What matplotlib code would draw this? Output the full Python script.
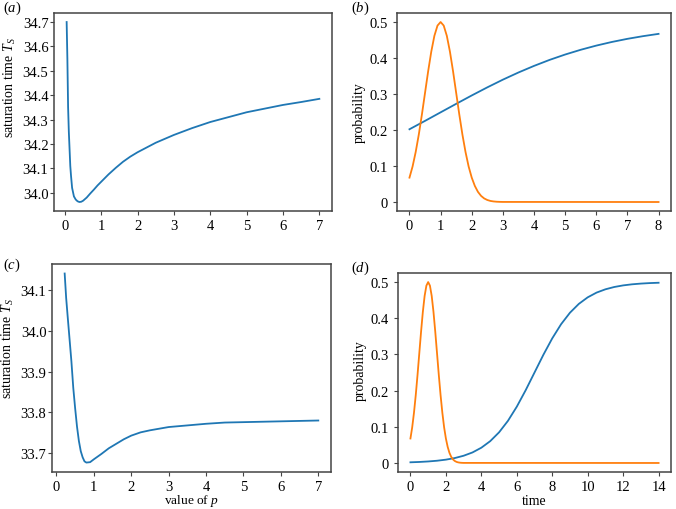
import numpy as np
import matplotlib
matplotlib.use("Agg")
from matplotlib import pyplot as plt

plt.rcParams["font.family"] = ["Liberation Serif", "DejaVu Serif"]
plt.rcParams["font.size"] = 10
plt.rcParams["mathtext.fontset"] = "custom"
plt.rcParams["mathtext.rm"] = "Liberation Serif"
plt.rcParams["mathtext.it"] = "Liberation Serif:italic"

# (a) saturation time vs p
p_a = [0.05, 0.07, 0.09, 0.11, 0.13, 0.15, 0.17, 0.2, 0.25, 0.3, 0.35, 0.4,
       0.45, 0.5, 0.6, 0.7, 0.8, 0.9, 1.0, 1.2, 1.4, 1.6, 1.8, 2.0, 2.5, 3.0,
       3.5, 4.0, 4.5, 5.0, 5.5, 6.0, 6.5, 7.0]
ts_a = [34.70, 34.55, 34.35, 34.25, 34.18, 34.11, 34.07, 34.02, 33.985, 33.972,
        33.965, 33.962, 33.963, 33.967, 33.98, 33.997, 34.013, 34.03, 34.045,
        34.075, 34.102, 34.127, 34.148, 34.166, 34.205, 34.237, 34.265, 34.29,
        34.31, 34.33, 34.345, 34.36, 34.372, 34.385]

# (c) saturation time vs p
p_c = [0.22, 0.26, 0.3, 0.35, 0.4, 0.45, 0.5, 0.55, 0.6, 0.65, 0.7, 0.75, 0.8,
       0.9, 1.0, 1.2, 1.4, 1.6, 1.8, 2.0, 2.25, 2.5, 2.75, 3.0, 3.5, 4.0, 4.5,
       5.0, 5.5, 6.0, 6.5, 7.0]
ts_c = [34.14, 34.08, 34.035, 33.98, 33.925, 33.86, 33.81, 33.765, 33.73,
        33.705, 33.69, 33.68, 33.677, 33.678, 33.685, 33.698, 33.712, 33.723,
        33.734, 33.743, 33.751, 33.756, 33.760, 33.764, 33.768, 33.772, 33.775,
        33.776, 33.777, 33.778, 33.779, 33.780]

# orange pulse (same in b and d), t = 0 .. 3.0 step 0.1
t_pulse = [0.0, 0.1, 0.2, 0.3, 0.4, 0.5, 0.6, 0.7, 0.8, 0.9, 1.0, 1.1, 1.2, 1.3,
           1.4, 1.5, 1.6, 1.7, 1.8, 1.9, 2.0, 2.1, 2.2, 2.3, 2.4, 2.5, 2.6, 2.7,
           2.8, 2.9, 3.0]
pulse = [0.0677, 0.0987, 0.1390, 0.1876, 0.2434, 0.3033, 0.3631, 0.4176, 0.4616,
         0.4901, 0.5, 0.4901, 0.4616, 0.4176, 0.3631, 0.3033, 0.2434, 0.1876,
         0.1390, 0.0987, 0.0677, 0.0446, 0.0281, 0.0170, 0.0099, 0.0056, 0.0030,
         0.0016, 0.0008, 0.0004, 0.0002]

# (b) blue curve
t_b = [0.0, 0.5, 1.0, 1.5, 2.0, 2.5, 3.0, 3.5, 4.0, 4.5, 5.0, 5.5, 6.0, 6.5,
       7.0, 7.5, 8.0]
prob_b = [0.2021, 0.2254, 0.2491, 0.2727, 0.2960, 0.3185, 0.3399, 0.3598, 0.3781,
          0.3948, 0.4097, 0.4229, 0.4345, 0.4446, 0.4533, 0.4607, 0.4671]

# (d) blue curve
t_d = [0.0, 0.5, 1.0, 1.5, 2.0, 2.5, 3.0, 3.5, 4.0, 4.5, 5.0, 5.5, 6.0, 6.5,
       7.0, 7.5, 8.0, 8.5, 9.0, 9.5, 10.0, 10.5, 11.0, 11.5, 12.0, 12.5, 13.0,
       13.5, 14.0]
prob_d = [0.0019, 0.0028, 0.0042, 0.0062, 0.0092, 0.0136, 0.0200, 0.0291, 0.0422,
          0.0603, 0.0847, 0.1164, 0.1556, 0.2010, 0.25, 0.2990, 0.3444, 0.3836,
          0.4153, 0.4397, 0.4578, 0.4709, 0.4800, 0.4864, 0.4908, 0.4938, 0.4958,
          0.4972, 0.4981]

yt_a = [34.0, 34.1, 34.2, 34.3, 34.4, 34.5, 34.6, 34.7]
yt_c = [33.7, 33.8, 33.9, 34.0, 34.1]
yt_prob = [0, 0.1, 0.2, 0.3, 0.4, 0.5]
yl_prob = ["0", "0.1", "0.2", "0.3", "0.4", "0.5"]

blue = "#1f77b4"
orange = "#ff7f0e"

fig = plt.figure(figsize=(6.76, 5.10), dpi=100)
ax_a = fig.add_axes([0.0799, 0.5843, 0.4112, 0.3882])
ax_b = fig.add_axes([0.5873, 0.5843, 0.4053, 0.3882])
ax_c = fig.add_axes([0.0769, 0.0725, 0.4127, 0.4078])
ax_d = fig.add_axes([0.5888, 0.0725, 0.4038, 0.3902])

ax_a.plot(p_a, ts_a, color=blue, lw=1.3)
ax_a.set_yticks(yt_a, [f"{v:.1f}" for v in yt_a])
ax_a.set_xticks(range(8))
ax_a.set_ylabel("saturation time $T_S$")
ax_a.yaxis.set_label_coords(-0.13, 0.63)

ax_b.plot(t_b, prob_b, color=blue, lw=1.3)
ax_b.plot(t_pulse + [8.0], pulse + [0.0], color=orange, lw=1.3)
ax_b.set_yticks(yt_prob, yl_prob)
ax_b.set_xticks(range(9))
ax_b.set_ylabel("probability")
ax_b.yaxis.set_label_coords(-0.113, 0.5)

ax_c.plot(p_c, ts_c, color=blue, lw=1.3)
ax_c.set_yticks(yt_c, [f"{v:.1f}" for v in yt_c])
ax_c.set_xticks(range(8))
ax_c.set_ylabel("saturation time $T_S$")
ax_c.yaxis.set_label_coords(-0.128, 0.60)
ax_c.set_xlabel("value of $p$", fontsize=9.6)
ax_c.xaxis.set_label_coords(0.5, -0.098)

ax_d.plot(t_d, prob_d, color=blue, lw=1.3)
ax_d.plot(t_pulse + [14.0], pulse + [0.0], color=orange, lw=1.3)
ax_d.set_yticks(yt_prob, yl_prob)
ax_d.set_xticks(range(0, 15, 2))
ax_d.set_ylabel("probability")
ax_d.yaxis.set_label_coords(-0.114, 0.515)
ax_d.set_xlabel("time")
ax_d.xaxis.set_label_coords(0.5, -0.108)

for ax in (ax_a, ax_b, ax_c, ax_d):
    for s in ax.spines.values():
        s.set_color("#444444")
        s.set_linewidth(1.1)
    ax.tick_params(length=3, width=0.8, color="#444444", labelsize=10.5)
    ax.tick_params(axis="x", pad=2.5)

# saturation-time panels have their tick labels closer to the spine
for ax in (ax_a, ax_c):
    ax.tick_params(axis="y", pad=1)

fig.text(0.005, 0.984, "($a$)", fontsize=10.5, va="center")
fig.text(0.519, 0.984, "($b$)", fontsize=10.5, va="center")
fig.text(0.005, 0.480, "($c$)", fontsize=10.5, va="center")
fig.text(0.519, 0.473, "($d$)", fontsize=10.5, va="center")

fig.savefig("out.png", dpi=100)
